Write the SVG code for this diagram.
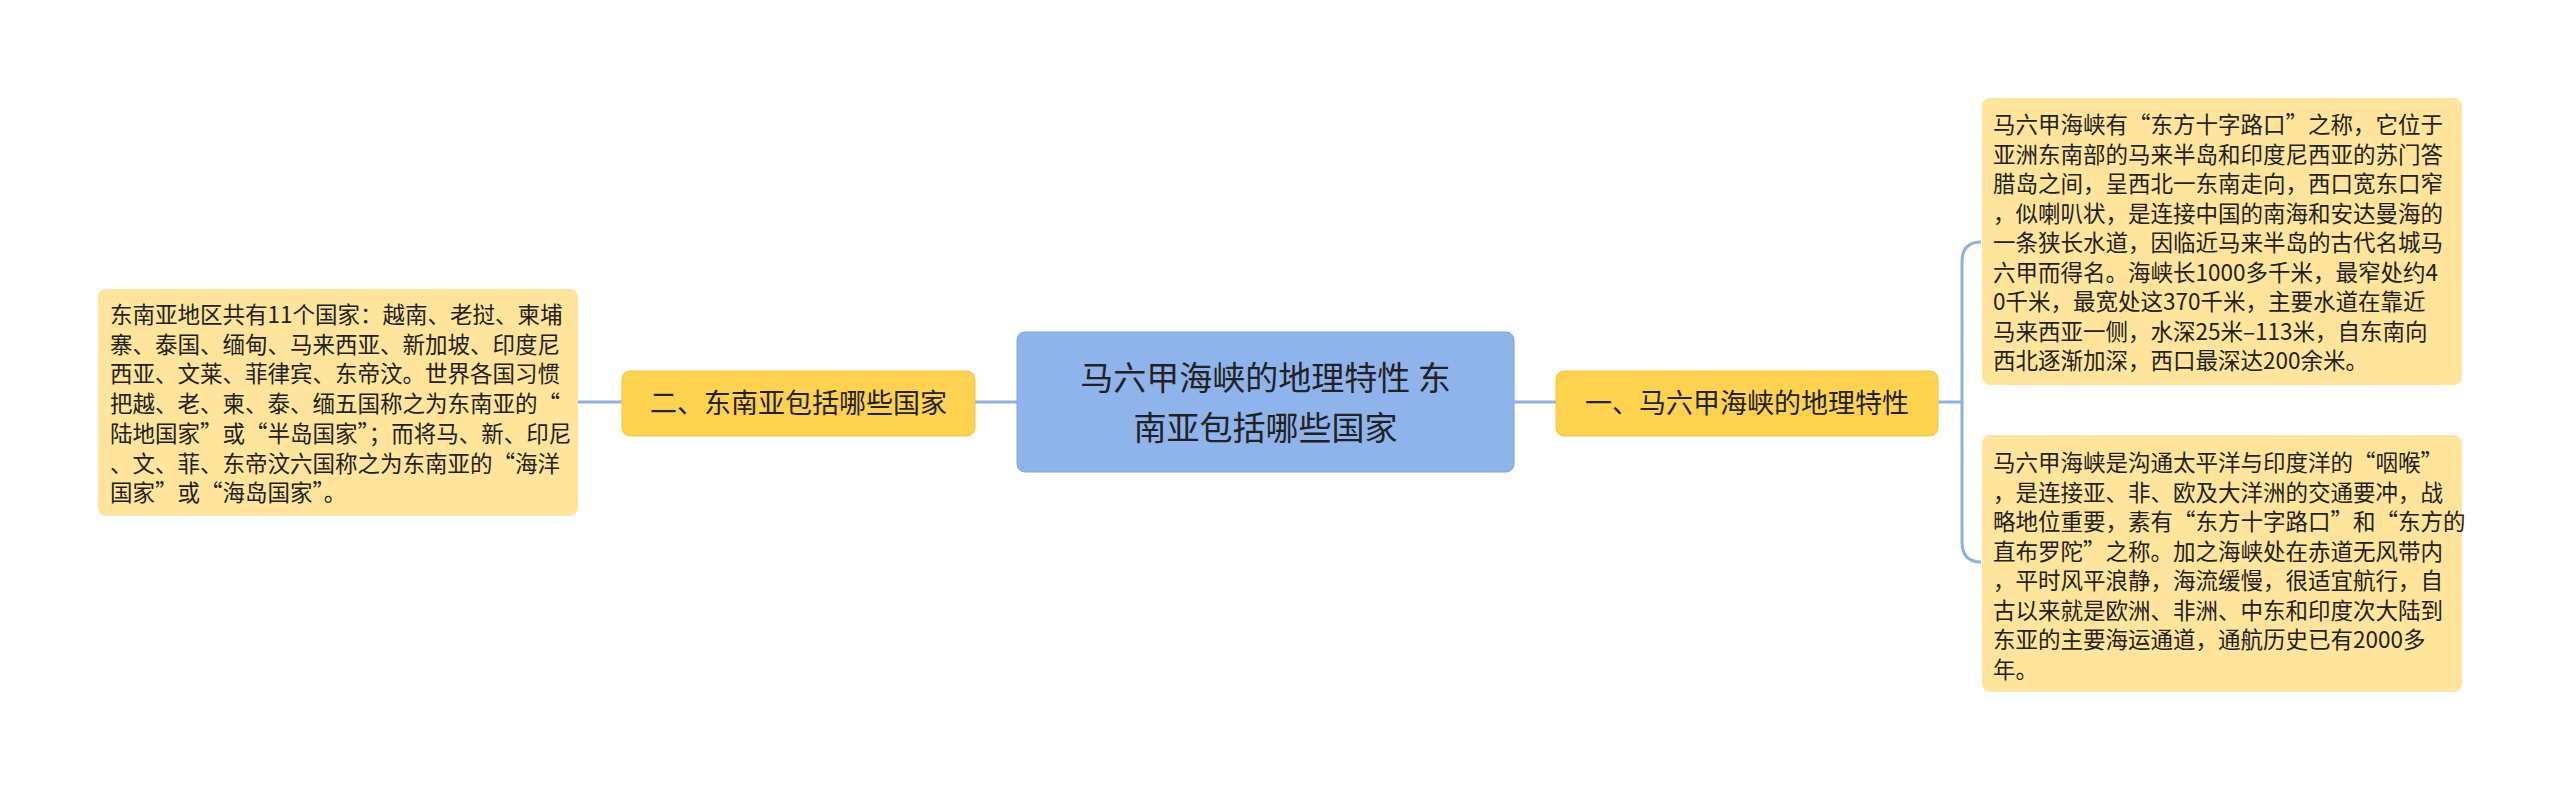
<svg xmlns="http://www.w3.org/2000/svg" width="2560" height="791" viewBox="0 0 2560 791">
<style>
text{font-family:"Noto Sans CJK SC","Noto Sans",sans-serif;fill:#222}
.c{fill:none;stroke:#8fb0e3;stroke-width:3}
.t{font-size:22.5px}
.n{fill:#fdd24f;stroke:#f2c640;stroke-width:1}
.b{fill:#fee59b}
</style>
<rect width="2560" height="791" fill="#fff"/>
<g id="connectors">
<path class="c" d="M1514 402 H1556"/>
<path class="c" d="M1017 402 H975"/>
<path class="c" d="M622 402 H578"/>
<path class="c" d="M1938 402 H1962"/>
<path class="c" d="M1981 242 Q1962 242 1962 262 V542 Q1962 562 1981 562"/>
</g>
<g id="center">
<rect x="1017" y="332" width="497" height="140" rx="8" fill="#8fb4eb" stroke="#7ea3da"/>
<text x="1265.5" y="390" font-size="33" text-anchor="middle">马六甲海峡的地理特性  东</text>
<text x="1265.5" y="440" font-size="33" text-anchor="middle">南亚包括哪些国家</text>
</g>
<g id="n1">
<rect class="n" x="1556" y="371" width="382" height="65" rx="8"/>
<text x="1747" y="413" font-size="27" text-anchor="middle">一、马六甲海峡的地理特性</text>
</g>
<g id="n2">
<rect class="n" x="622" y="371" width="353" height="65" rx="8"/>
<text x="798.5" y="413" font-size="27" text-anchor="middle">二、东南亚包括哪些国家</text>
</g>
<g id="b1">
<rect class="b" x="1982" y="98" width="480" height="287" rx="8"/>
<text class="t" x="1993" y="133">
<tspan x="1993">马六甲海峡有“东方十字路口”之称，它位于</tspan>
<tspan x="1993" dy="29.5">亚洲东南部的马来半岛和印度尼西亚的苏门答</tspan>
<tspan x="1993" dy="29.5">腊岛之间，呈西北一东南走向，西口宽东口窄</tspan>
<tspan x="1993" dy="29.5">，似喇叭状，是连接中国的南海和安达曼海的</tspan>
<tspan x="1993" dy="29.5">一条狭长水道，因临近马来半岛的古代名城马</tspan>
<tspan x="1993" dy="29.5">六甲而得名。海峡长1000多千米，最窄处约4</tspan>
<tspan x="1993" dy="29.5">0千米，最宽处这370千米，主要水道在靠近</tspan>
<tspan x="1993" dy="29.5">马来西亚一侧，水深25米–113米，自东南向</tspan>
<tspan x="1993" dy="29.5">西北逐渐加深，西口最深达200余米。</tspan>
</text>
</g>
<g id="b2">
<rect class="b" x="1982" y="435" width="480" height="257" rx="8"/>
<text class="t" x="1993" y="471">
<tspan x="1993">马六甲海峡是沟通太平洋与印度洋的“咽喉”</tspan>
<tspan x="1993" dy="29.5">，是连接亚、非、欧及大洋洲的交通要冲，战</tspan>
<tspan x="1993" dy="29.5">略地位重要，素有“东方十字路口”和“东方的</tspan>
<tspan x="1993" dy="29.5">直布罗陀”之称。加之海峡处在赤道无风带内</tspan>
<tspan x="1993" dy="29.5">，平时风平浪静，海流缓慢，很适宜航行，自</tspan>
<tspan x="1993" dy="29.5">古以来就是欧洲、非洲、中东和印度次大陆到</tspan>
<tspan x="1993" dy="29.5">东亚的主要海运通道，通航历史已有2000多</tspan>
<tspan x="1993" dy="29.5">年。</tspan>
</text>
</g>
<g id="b3">
<rect class="b" x="98" y="289" width="480" height="227" rx="8"/>
<text class="t" x="110" y="323">
<tspan x="110">东南亚地区共有11个国家：越南、老挝、柬埔</tspan>
<tspan x="110" dy="29.7">寨、泰国、缅甸、马来西亚、新加坡、印度尼</tspan>
<tspan x="110" dy="29.7">西亚、文莱、菲律宾、东帝汶。世界各国习惯</tspan>
<tspan x="110" dy="29.7">把越、老、柬、泰、缅五国称之为东南亚的“</tspan>
<tspan x="110" dy="29.7">陆地国家”或“半岛国家”；而将马、新、印尼</tspan>
<tspan x="110" dy="29.7">、文、菲、东帝汶六国称之为东南亚的“海洋</tspan>
<tspan x="110" dy="29.7">国家”或“海岛国家”。</tspan>
</text>
</g>
</svg>
